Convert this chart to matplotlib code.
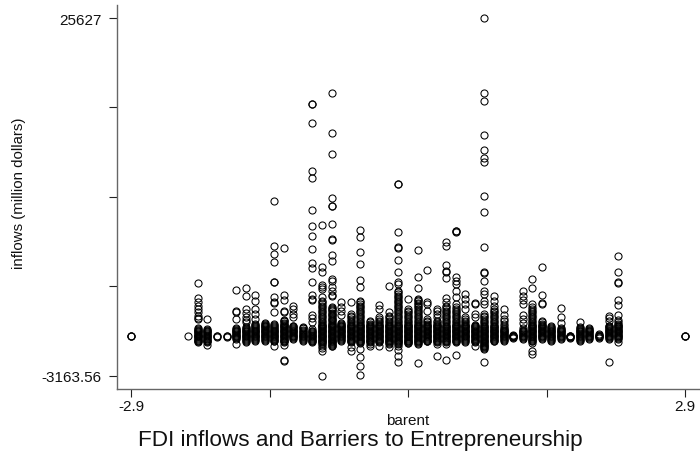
import matplotlib
matplotlib.use('Agg')
import matplotlib.pyplot as plt

plt.rcParams['font.family'] = ['Liberation Sans', 'DejaVu Sans']

# inflows (million dollars), one list per barent value
col_m29 = [0, 0, 40]
col_m23 = [0]
col_m22 = [4320, 3058, 2790, 2468, 2199, 1931, 1609, 1448, 1420, 589, 455, 320, 186, 53, 0, -82, -216, -350, -485]
col_m21 = [1394, 589, 455, 320, 186, 53, -82, -216, -350, -485, -673]
col_m20 = [30, 0, -30]
col_m19 = [30, 0, -30]
col_m18 = [3729, 2065, 1985, 1394, 589, 455, 320, 186, 53, -82, -216, -619]
col_m17 = [3863, 3219, 2199, 1877, 1528, 1341, 1126, 723, 589, 455, 320, 186, 53, -82, -216, -350, -431]
col_m16 = [3327, 2870, 2199, 1797, 1394, 992, 723, 589, 455, 320, 186, 53, -82, -216, -350]
col_m15 = [992, 857, 723, 589, 455, 320, 186, 53, -82, -216, -350]
col_m14 = [10920, 7245, 6628, 6011, 4400, 4347, 3139, 2790, 2683, 1931, 992, 723, 589, 455, 320, 186, 53, -82, -216,
           -350, -753]
col_m13 = [7084, 3354, 2924, 2065, 1985, 1260, 992, 857, 723, 589, 455, 320, 186, 53, -82, -216, -350, -485, -700,
           -1880, -1961]
col_m12 = [2468, 2199, 1797, 1528, 857, 723, 589, 455, 320, 186, 53, -82, -216]
col_m11 = [640, 500, 320, 186, 53, -82, -216, -350]
col_m10 = [18707, 18667, 17177, 13312, 12748, 10195, 8858, 8101, 7030, 5903, 5476, 4349, 3354, 3005, 2924, 1716, 1448,
           1180, 589, 455, 320, 186, 53, -82, -216, -350, -485]
col_m09 = [8987, 5554, 5152, 4132, 3944, 3810, 3139, 2870, 2602, 2334, 2065, 1797, 1528, 1260, 992, 857, 589, 455, 320,
           186, 53, -82, -216, -350, -485, -753, -968, -1156, -3168]
col_m08 = [19593, 16396, 14681, 11113, 10517, 10480, 9043, 7795, 7740, 6571, 6091, 4615, 4481, 3970, 3676, 3327, 3219,
           2334, 2199, 2000, 1800, 1600, 1400, 1200, 1000, 857, 723, 589, 455, 320, 186, 53, -82, -216, -350, -485,
           -619, -807, -807]
col_m07 = [2790, 2334, 2065, 1716, 992, 857, 723, 589, 455, 320, 186, 53, -82, -216, -350]
col_m06 = [2790, 1797, 1528, 1260, 992, 857, 723, 589, 455, 320, 186, 53, -82, -216, -350, -485, -887, -1156]
col_m05 = [8585, 7972, 6765, 5822, 4558, 3944, 2870, 2602, 2334, 2065, 1797, 1528, 1260, 992, 857, 723, 589, 455, 320,
           186, 53, -82, -216, -350, -485, -1021, -1692, -2417, -3088]
col_m04 = [1260, 992, 857, 723, 589, 455, 320, 186, 53, -82, -216, -350, -485, -619, -753]
col_m03 = [2522, 2199, 1528, 1260, 992, 857, 723, 589, 455, 320, 186, 53, -82, -216, -350, -485, -753]
col_m02 = [4078, 1931, 1528, 1260, 992, 857, 723, 589, 455, 320, 186, 53, -82, -216, -350, -485, -619, -887]
col_m01 = [12265, 12230, 8373, 7218, 7084, 6145, 5206, 4400, 4213, 3676, 3407, 3139, 2870, 2602, 2334, 2065, 1797, 1528,
           1260, 992, 857, 723, 589, 455, 320, 186, 53, -82, -216, -350, -485, -753, -1075, -1558, -2041]
col_00 = [3005, 2199, 1985, 1797, 1528, 1260, 992, 857, 723, 589, 455, 320, 186, 53, -82, -216, -350, -485, -538]
col_01 = [6977, 4803, 3890, 3005, 2800, 2600, 2334, 2065, 1797, 1528, 1260, 992, 857, 723, 589, 455, 320, 186, 53, -82,
          -216, -350, -485, -619, -2149]
col_02 = [5313, 2790, 2602, 2012, 1394, 1260, 992, 857, 723, 589, 455, 320, 186, 53, -82, -216, -350, -419]
col_03 = [2199, 2000, 1797, 1528, 1260, 992, 857, 723, 589, 455, 320, 186, 53, -82, -216, -350, -485, -619, -1612]
col_04 = [7621, 7245, 5742, 5286, 5152, 4695, 3058, 2468, 2199, 1931, 1663, 1394, 1126, 857, 723, 589, 455, 320, 186,
          53, -82, -216, -350, -485, -619, -1907]
col_05 = [8507, 8440, 8373, 4749, 4481, 4213, 3676, 3139, 2602, 2199, 1931, 1797, 1528, 1260, 992, 857, 723, 589, 455,
          320, 186, 53, -82, -216, -350, -485, -1505]
col_06 = [3407, 3005, 2602, 2199, 1528, 1260, 992, 857, 723, 589, 455, 320, 186, 53, -82, -216, -350, -485]
col_07 = [2683, 2602, 1797, 1528, 857, 723, 589, 455, 320, 186, 53, -82, -216, -350, -485, -807]
col_08 = [25627, 19593, 18949, 16235, 15003, 14359, 14036, 11298, 10034, 7165, 5206, 5071, 4481, 3676, 3407, 2870, 2602,
          1663, 1394, 1126, 857, 723, 589, 455, 320, 186, 53, -82, -216, -350, -485, -619, -750, -887, -1021, -2095]
col_09 = [3273, 2870, 2468, 2199, 1931, 1663, 1394, 1126, 857, 723, 589, 455, 320, 186, 53, -82, -216, -350, -350]
col_10 = [2199, 1716, 1394, 1260, 589, 455, 320, 186, 53, -82, -216, -350]
col_11 = [53, 0, -30]
col_12 = [3676, 3273, 2951, 2602, 1716, 1394, 1072, 455, 320, 186, 53, -82, -216]
col_13 = [4615, 3863, 2602, 2334, 2065, 1797, 1528, 1260, 992, 857, 723, 589, 455, 320, 186, 53, -82, -216, -350, -538,
          -1209, -1424]
col_14 = [5608, 3327, 2683, 2602, 1260, 1126, 992, 857, 723, 589, 455, 320, 186, 53, -82, -216]
col_15 = [857, 589, 455, 320, 186, 53, -82, -216, -350]
col_16 = [2253, 1582, 1045, 589, 455, 320, 186, 53, -82, -216]
col_17 = [0, -50, -82]
col_18 = [1126, 589, 455, 320, 186, 53, -82, -216, -350]
col_19 = [589, 455, 320, 186, 53, -82, -216]
col_20 = [53, 0, -60]
col_21 = [1609, 1450, 1260, 857, 723, 589, 455, 320, 186, 53, -82, -216, -2095]
col_22 = [6494, 5152, 4347, 4266, 2924, 2522, 1716, 1341, 992, 857, 723, 589, 455, 320, 186, 53, -82, -216, -431]
col_29 = [0, 0, 40]

# the solid part of each column, where single rings cannot be told apart
core_m22 = [655, 520, 388, 253, 120, -15, -150, -283, -418]
core_m21 = [520, 388, 253, 120, -15, -150, -283, -418]
core_m18 = [655, 520, 388, 253, 120, -15, -150]
core_m17 = [655, 520, 388, 253, 120, -15, -150, -283]
core_m16 = [925, 790, 655, 520, 388, 253, 120, -15, -150, -283]
core_m15 = [1060, 925, 790, 655, 520, 388, 253, 120, -15, -150, -283]
core_m14 = [925, 790, 655, 520, 388, 253, 120, -15, -150, -283, -418]
core_m13 = [1330, 1195, 1060, 925, 790, 655, 520, 388, 253, 120, -15, -150, -283, -418]
core_m12 = [790, 655, 520, 388, 253, 120, -15, -150]
core_m11 = [720, 655, 388, 253, 120, -15, -150, -283]
core_m10 = [388, 253, 120, -15, -150, -283, -418]
core_m09 = [2740, 2465, 2200, 1930, 1665, 1395, 1125, 925, 790, 720, 655, 520, 388, 253, 120, -15, -150, -283, -418,
            -552, -620]
core_m08 = [2265, 2100, 1900, 1700, 1500, 1300, 1100, 925, 790, 655, 520, 388, 253, 120, -15, -150, -283, -418, -552,
            -690]
core_m07 = [1060, 925, 790, 655, 520, 388, 253, 120, -15, -150, -283]
core_m06 = [1665, 1395, 1125, 925, 790, 655, 520, 388, 253, 120, -15, -150, -283, -418]
core_m05 = [2740, 2465, 2200, 1930, 1665, 1395, 1125, 925, 790, 655, 520, 388, 253, 120, -15, -150, -283, -418, -552]
core_m04 = [1125, 925, 790, 655, 520, 388, 253, 120, -15, -150, -283, -418]
core_m03 = [1395, 1125, 925, 790, 655, 520, 388, 253, 120, -15, -150, -283, -418]
core_m02 = [1665, 1395, 1125, 925, 790, 655, 520, 388, 253, 120, -15, -150, -283, -418, -552]
core_m01 = [3540, 3270, 3005, 2740, 2465, 2200, 1930, 1665, 1395, 1125, 925, 790, 655, 520, 388, 253, 120, -15, -150,
            -283, -418, -552, -620]
core_00 = [2065, 1665, 1395, 1125, 925, 790, 655, 520, 388, 253, 120, -15, -150, -283, -418, -552]
core_01 = [2900, 2700, 2465, 2200, 1930, 1665, 1395, 1125, 925, 790, 655, 520, 388, 253, 120, -15, -150, -283, -418,
           -552]
core_02 = [1125, 925, 790, 655, 520, 388, 253, 120, -15, -150, -283, -418]
core_03 = [1125, 925, 790, 655, 520, 388, 253, 120, -15, -150, -283, -418]
core_04 = [2740, 2330, 2065, 1800, 1530, 1260, 990, 790, 655, 520, 388, 253, 120, -15, -150, -283, -418]
core_05 = [2330, 2065, 1665, 1395, 1125, 925, 790, 655, 520, 388, 253, 120, -15, -150, -283, -418]
core_06 = [1395, 1125, 925, 790, 655, 520, 388, 253, 120, -15, -150, -283]
core_07 = [925, 790, 655, 520, 388, 253, 120, -15, -150, -283, -418]
core_08 = [1800, 1530, 1260, 990, 790, 655, 520, 388, 253, 120, -15, -150, -283, -418, -552, -690, -820, -950]
core_09 = [2065, 1800, 1530, 1260, 990, 790, 655, 520, 388, 253, 120, -15, -150, -283]
core_10 = [990, 790, 655, 520, 388, 253, 120, -15, -150, -283]
core_11 = [120, 26, -15, -60, -150]
core_12 = [655, 520, 388, 253, 120, -15, -150]
core_13 = [2200, 1930, 1665, 1395, 1125, 925, 790, 655, 520, 388, 253, 120, -15, -150, -283, -418]
core_14 = [925, 790, 655, 520, 388, 253, 120, -15, -150]
core_15 = [720, 655, 520, 388, 253, 120, -15, -150, -283]
core_16 = [655, 520, 388, 253, 120, -15, -150]
core_17 = [40, -15, -120]
core_18 = [720, 655, 520, 388, 253, 120, -15, -150, -283]
core_19 = [655, 520, 388, 253, 120, -15, -150]
core_20 = [186, 120, -15, -120]
core_21 = [790, 655, 520, 388, 253, 120, -15, -150]
core_22 = [1125, 925, 790, 655, 520, 388, 253, 120, -15, -150]

barent_levels = [-2.9, -2.3, -2.2, -2.1, -2.0, -1.9, -1.8, -1.7, -1.6, -1.5, -1.4, -1.3, -1.2, -1.1, -1.0, -0.9, -0.8,
                 -0.7, -0.6, -0.5, -0.4, -0.3, -0.2, -0.1, 0.0, 0.1, 0.2, 0.3, 0.4, 0.5, 0.6, 0.7, 0.8, 0.9, 1.0, 1.1,
                 1.2, 1.3, 1.4, 1.5, 1.6, 1.7, 1.8, 1.9, 2.0, 2.1, 2.2, 2.9]
inflow_columns = [col_m29, col_m23, col_m22 + core_m22, col_m21 + core_m21, col_m20, col_m19, col_m18 + core_m18,
                  col_m17 + core_m17, col_m16 + core_m16, col_m15 + core_m15, col_m14 + core_m14, col_m13 + core_m13,
                  col_m12 + core_m12, col_m11 + core_m11, col_m10 + core_m10, col_m09 + core_m09, col_m08 + core_m08,
                  col_m07 + core_m07, col_m06 + core_m06, col_m05 + core_m05, col_m04 + core_m04, col_m03 + core_m03,
                  col_m02 + core_m02, col_m01 + core_m01, col_00 + core_00, col_01 + core_01, col_02 + core_02,
                  col_03 + core_03, col_04 + core_04, col_05 + core_05, col_06 + core_06, col_07 + core_07,
                  col_08 + core_08, col_09 + core_09, col_10 + core_10, col_11 + core_11, col_12 + core_12,
                  col_13 + core_13, col_14 + core_14, col_15 + core_15, col_16 + core_16, col_17 + core_17,
                  col_18 + core_18, col_19 + core_19, col_20 + core_20, col_21 + core_21, col_22 + core_22, col_29]

x_ticks = [-2.9, -1.45, 0, 1.45, 2.9]
x_tick_labels = ['-2.9', '', '', '', '2.9']
y_ticks = [-3163.56, 4034, 11232, 18429, 25627]
y_tick_labels = ['-3163.56', '', '', '', '25627']

fig = plt.figure(figsize=(7, 4.56), dpi=100)
# axes box in figure fractions: left 117 px, right edge 700 px, top 6 px, bottom 389.5 px
ax = fig.add_axes([117 / 700, 1 - 389.5 / 456, 583 / 700, 383.5 / 456])

for level, values in zip(barent_levels, inflow_columns):
    ax.plot([level] * len(values), values, linestyle='none', marker='o', markersize=5.1,
            markerfacecolor='none', markeredgecolor='black', markeredgewidth=0.75, clip_on=False)

ax.set_xlim(-3.0466, 3.057)
ax.set_ylim(-4210, 26674)
ax.set_xticks(x_ticks)
ax.set_xticklabels(x_tick_labels, fontsize=11)
ax.set_yticks(y_ticks)
ax.set_yticklabels(y_tick_labels, fontsize=11)
ax.tick_params(axis='both', length=6, width=0.8, color='#222222', labelcolor='#111111')
ax.tick_params(axis='x', pad=1.5)
ax.tick_params(axis='y', pad=5)

ax.spines['top'].set_visible(False)
ax.spines['right'].set_visible(False)
ax.spines['left'].set_color('#666666')
ax.spines['bottom'].set_color('#666666')
ax.spines['left'].set_linewidth(1.0)
ax.spines['bottom'].set_linewidth(1.0)

fig.text(408 / 700, 1 - 421.5 / 456, 'barent', ha='center', va='center', fontsize=11, color='#111111')
fig.text(19 / 700, 1 - 193 / 456, 'inflows (million dollars)', rotation=90, ha='center', va='center',
         fontsize=10.8, color='#111111')
fig.text(360.5 / 700, 1 - 441 / 456, 'FDI inflows and Barriers to Entrepreneurship', ha='center', va='center',
         fontsize=16.2, color='#111111')

plt.savefig('out.png', dpi=100)
